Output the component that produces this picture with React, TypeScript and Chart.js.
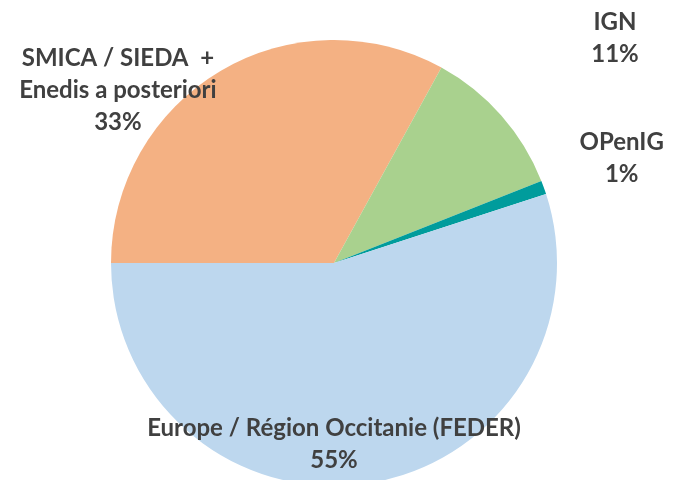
import React, { useEffect, useRef } from "react";
import { Chart, registerables } from "chart.js";

Chart.register(...registerables);

const categories: string[][] = [
  ["SMICA / SIEDA  +", "Enedis a posteriori"],
  ["IGN"],
  ["OPenIG"],
  ["Europe / Région Occitanie (FEDER)"],
];
const values: number[] = [33, 11, 1, 55];
const colors: string[] = ["#F4B183", "#A9D18E", "#009C9C", "#BDD7EE"];
// label block centers, in units of pie radius relative to the pie center
const labelOffsets: [number, number][] = [
  [-0.969, -0.776],
  [1.26, -1.009],
  [1.29, -0.471],
  [0.0, 0.812],
];

const labelPlugin = {
  id: "manualLabels",
  afterDraw(chart: any) {
    const meta = chart.getDatasetMeta(0);
    const arc = meta.data[0];
    if (!arc) return;
    const cx = arc.x;
    const cy = arc.y;
    const r = arc.outerRadius;
    const ctx = chart.ctx;
    const total = values.reduce((a, b) => a + b, 0);
    const lineH = 32;
    ctx.save();
    ctx.fillStyle = "#404040";
    ctx.font = "bold 24px Lato";
    ctx.textAlign = "center";
    ctx.textBaseline = "middle";
    categories.forEach((lines, i) => {
      const all = [...lines, Math.round((values[i] / total) * 100) + "%"];
      const bx = cx + labelOffsets[i][0] * r;
      const by = cy + labelOffsets[i][1] * r;
      const startY = by - ((all.length - 1) * lineH) / 2;
      all.forEach((t, j) => ctx.fillText(t, bx, startY + j * lineH));
    });
    ctx.restore();
  },
};

export default function App() {
  const ref = useRef<HTMLCanvasElement>(null);
  useEffect(() => {
    if (!ref.current) return;
    const chart = new Chart(ref.current, {
      type: "pie",
      data: {
        labels: categories.map((c) => c.join(" ")),
        datasets: [
          {
            data: values,
            backgroundColor: colors,
            borderWidth: 0,
          },
        ],
      },
      options: {
        responsive: false,
        animation: false,
        rotation: 270,
        layout: { padding: { top: 40, left: 0, right: 10, bottom: 0 } },
        plugins: { legend: { display: false }, tooltip: { enabled: false } },
      },
      plugins: [labelPlugin],
    });
    return () => chart.destroy();
  }, []);
  return (
    <div
      style={{
        position: "fixed",
        left: 0,
        top: 0,
        width: 678,
        height: 480,
        overflow: "hidden",
        background: "#fff",
      }}
    >
      <canvas ref={ref} width={678} height={486} style={{ display: "block" }} />
    </div>
  );
}
